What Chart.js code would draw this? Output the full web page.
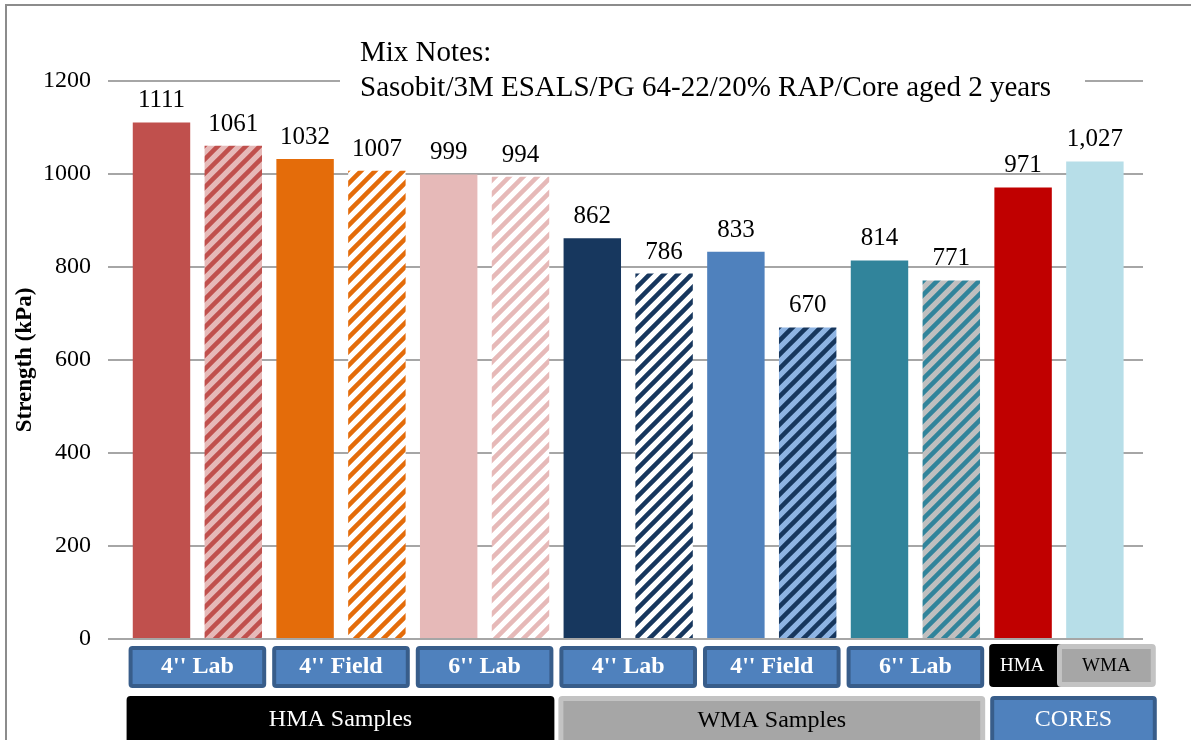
<!DOCTYPE html>
<html>
<head>
<meta charset="utf-8">
<script src="https://cdn.jsdelivr.net/npm/chart.js@4.4.0/dist/chart.umd.min.js"></script>
<style>
    html, body { margin: 0; padding: 0; background: #fff; }
    #wrap { width: 1191px; height: 740px; position: relative; }
</style>
</head>
<body>
<div id="wrap"><canvas id="myChart" width="1191" height="740"></canvas></div>
<script>
var barPositions = [0, 1, 2, 3, 4, 5, 6, 7, 8, 9, 10, 11, 12, 13];
var strengths = [1111, 1061, 1032, 1007, 999, 994, 862, 786, 833, 670, 814, 771, 971, 1027];
var valueLabels = ['1111', '1061', '1032', '1007', '999', '994', '862', '786', '833', '670', '814', '771', '971', '1,027'];
var fillColors = ['#C0504D', '#E6B9B8', '#E46C0A', '#FFFFFF', '#E6B9B8', '#FFFFFF', '#17375E',
                  '#FFFFFF', '#4F81BD', '#8EB4E3', '#31849B', '#BFBFBF', '#C00000', '#B7DEE8'];
var stripeColors = [null, '#C0504D', null, '#E46C0A', null, '#E6B9B8', null,
                    '#17375E', null, '#17375E', null, '#31849B', null, null];
var yTicks = [0, 200, 400, 600, 800, 1000, 1200];
var sizeLabels = ["4'' Lab", "4'' Field", "6'' Lab", "4'' Lab", "4'' Field", "6'' Lab"];
var sampleLabels = ['HMA Samples', 'WMA Samples', 'CORES'];
var coreLabels = ['HMA', 'WMA'];
var noteLines = ['Mix Notes:', 'Sasobit/3M ESALS/PG 64-22/20% RAP/Core aged 2 years'];

var serif = "'Liberation Serif', 'Times New Roman', serif";

function makeStripes(bg, fg) {
    var size = 14;
    var c = document.createElement('canvas');
    c.width = size; c.height = size;
    var g = c.getContext('2d');
    g.fillStyle = bg;
    g.fillRect(0, 0, size, size);
    g.strokeStyle = fg;
    g.lineWidth = 4.5;
    g.beginPath();
    g.moveTo(-size, size); g.lineTo(size, -size);
    g.moveTo(0, size); g.lineTo(size, 0);
    g.moveTo(0, size * 2); g.lineTo(size * 2, 0);
    g.stroke();
    return g.createPattern(c, 'repeat');
}

var barFills = fillColors.map(function (col, i) {
    return stripeColors[i] ? makeStripes(col, stripeColors[i]) : col;
});

function box(ctx, x1, y1, x2, y2, fill, border, bw) {
    ctx.save();
    if (border) {
        ctx.fillStyle = border;
        ctx.beginPath(); ctx.roundRect(x1, y1, x2 - x1, y2 - y1, 4); ctx.fill();
        ctx.fillStyle = fill;
        ctx.fillRect(x1 + bw, y1 + bw, x2 - x1 - 2 * bw, y2 - y1 - 2 * bw);
    } else {
        ctx.fillStyle = fill;
        ctx.beginPath(); ctx.roundRect(x1, y1, x2 - x1, y2 - y1, 4); ctx.fill();
    }
    ctx.restore();
}

function boxText(ctx, txt, x1, x2, y, font, color) {
    ctx.save();
    ctx.font = font;
    ctx.fillStyle = color;
    ctx.textAlign = 'center';
    ctx.textBaseline = 'middle';
    ctx.fillText(txt, (x1 + x2) / 2, y);
    ctx.restore();
}

var decorations = {
    id: 'decorations',
    beforeDraw: function (chart) {
        var ctx = chart.ctx;
        ctx.save();
        ctx.strokeStyle = '#8c8c8c';
        ctx.lineWidth = 2;
        ctx.beginPath();
        ctx.moveTo(6, 740); ctx.lineTo(6, 5); ctx.lineTo(1191, 5);
        ctx.stroke();
        ctx.restore();
    },
    afterDatasetsDraw: function (chart) {
        var ctx = chart.ctx;
        var meta = chart.getDatasetMeta(0);
        ctx.save();
        ctx.font = '25px ' + serif;
        ctx.fillStyle = '#000';
        ctx.textAlign = 'center';
        ctx.textBaseline = 'alphabetic';
        meta.data.forEach(function (bar, i) {
            ctx.fillText(valueLabels[i], bar.x, bar.y - 15);
        });
        ctx.restore();
    },
    afterDraw: function (chart) {
        var ctx = chart.ctx;
        var xs = chart.scales.x;
        // mix notes text box
        ctx.save();
        ctx.fillStyle = '#fff';
        ctx.fillRect(340, 32, 745, 70);
        ctx.font = '29px ' + serif;
        ctx.fillStyle = '#000';
        ctx.textBaseline = 'middle';
        ctx.fillText(noteLines[0], 360, 53);
        ctx.fillText(noteLines[1], 360, 88);
        ctx.restore();

        function edge(i) { return xs.getPixelForValue(i); }

        // row 1: sample sizes
        sizeLabels.forEach(function (lbl, k) {
            var x1 = edge(2 * k - 0.5) + 3, x2 = edge(2 * k + 1.5) - 3;
            box(ctx, x1, 646, x2, 688, '#4F81BD', '#385D8A', 4);
            boxText(ctx, lbl, x1, x2, 667, 'bold 24px ' + serif, '#fff');
        });
        var h1 = edge(11.5) + 2, h2 = edge(12.5) + 4;
        box(ctx, h1, 644, h2, 687, '#000', null, 0);
        boxText(ctx, coreLabels[0], h1, h2 - 8, 666, '19px ' + serif, '#fff');
        var w1 = edge(12.5) - 2, w2 = edge(13.5) + 25;
        box(ctx, w1, 644, w2, 687, '#A6A6A6', '#C3C3C3', 5);
        boxText(ctx, coreLabels[1], w1, w2, 666, '19px ' + serif, '#000');

        // row 2: sample groups
        var a1 = edge(-0.5) + 1, a2 = edge(5.5) - 2;
        box(ctx, a1, 696, a2, 746, '#000', null, 0);
        boxText(ctx, sampleLabels[0], a1, a2, 720, '24px ' + serif, '#fff');
        var b1 = edge(5.5) + 2, b2 = edge(11.5) - 2;
        box(ctx, b1, 696, b2, 746, '#A6A6A6', '#C3C3C3', 5);
        boxText(ctx, sampleLabels[1], b1, b2, 721, '24px ' + serif, '#000');
        var c1 = edge(11.5) + 3, c2 = edge(13.5) + 26;
        box(ctx, c1, 696, c2, 746, '#4F81BD', '#385D8A', 4);
        boxText(ctx, sampleLabels[2], c1, c2, 720, '24px ' + serif, '#fff');
    }
};

var ctx = document.getElementById('myChart').getContext('2d');
var myChart = new Chart(ctx, {
    type: 'bar',
    data: {
        datasets: [{
            label: 'Strength',
            data: barPositions.map(function (p, i) { return { x: p, y: strengths[i] }; }),
            backgroundColor: barFills,
            borderWidth: 0,
            barPercentage: 0.8,
            categoryPercentage: 1
        }]
    },
    options: {
        responsive: false,
        animation: false,
        layout: { padding: { left: 0, top: 81, right: 48, bottom: 101 } },
        plugins: {
            legend: { display: false },
            tooltip: { enabled: false }
        },
        scales: {
            x: {
                type: 'linear',
                display: false,
                offset: false,
                min: -0.745,
                max: 13.67
            },
            y: {
                min: 0,
                max: 1200,
                afterFit: function (scale) { scale.width = 108; },
                afterBuildTicks: function (scale) {
                    scale.ticks = yTicks.map(function (v) { return { value: v }; });
                },
                border: { display: false },
                grid: { color: '#a6a6a6', lineWidth: 2, drawTicks: false },
                ticks: {
                    padding: 17,
                    color: '#000',
                    font: { family: serif, size: 24 },
                    callback: function (v) { return String(v); }
                },
                title: {
                    display: true,
                    text: 'Strength (kPa)',
                    color: '#000',
                    font: { family: serif, size: 23, weight: 'bold' },
                    padding: { top: 11, bottom: 0 }
                }
            }
        }
    },
    plugins: [decorations]
});
</script>
</body>
</html>
